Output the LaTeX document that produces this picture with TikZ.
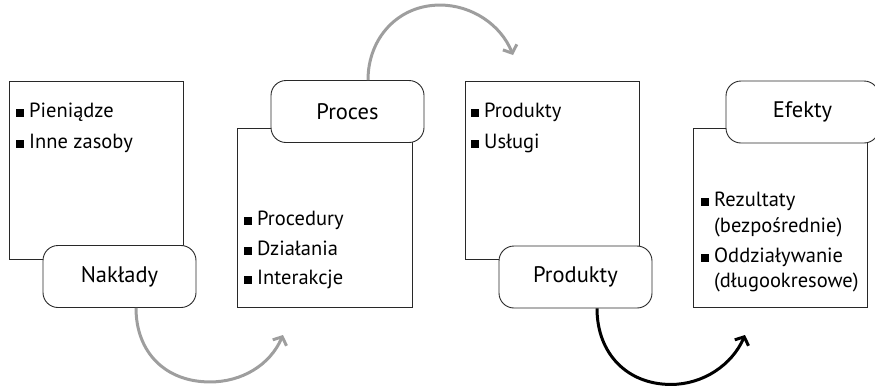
\documentclass[tikz,border=0pt]{standalone}
\usepackage{fontspec}
\setmainfont{PT Sans}
\usetikzlibrary{arrows.meta,calc}
\definecolor{flowgray}{RGB}{158,158,158}
\definecolor{edge}{RGB}{40,40,40}
\newcommand\sqb{\rule{8pt}{8pt}\hspace{5pt}}
\newcommand\sqgap{\hspace{13pt}}
\tikzset{
  panel/.style={draw=edge, line width=0.9pt, fill=white, inner sep=0pt},
  tag/.style={draw=edge, line width=0.9pt, fill=white, rounded corners=15pt,
    minimum width=153pt, minimum height=62pt, inner sep=0pt,
    font=\fontsize{22.5}{27}\selectfont},
  item/.style={anchor=base west, inner sep=0pt, font=\fontsize{20.5}{24}\selectfont},
  flow/.style={line width=3pt, -{Straight Barb[length=6.5pt,width=15pt,line width=3pt]}},
}
\begin{document}
\begin{tikzpicture}[x=1pt,y=-1pt]
\useasboundingbox (0,0) rectangle (875,386);
\clip (0,0) rectangle (875,386);

% content panels
\node[panel, minimum width=174pt, minimum height=178pt] (inbox) at (96,170) {};
\node[panel, minimum width=175pt, minimum height=179pt] (procbox) at (324.5,217.5) {};
\node[panel, minimum width=174pt, minimum height=178pt] (outbox) at (552,170) {};
\node[panel, minimum width=174pt, minimum height=179pt] (effbox) at (780,217.5) {};

% stage titles
\node[tag] (nak) at (119.5,276.5) {Nakłady};
\node[tag] (proc) at (347.5,111.5) {Proces};
\node[tag] (prod) at (575.5,277) {Produkty};
\node[tag] (ef) at (802.5,112) {Efekty};

% bullet lists
\node[item] (i1) at (16,117) {\sqb Pieniądze};
\node[item] (i2) at (16,148) {\sqb Inne zasoby};
\node[item] (p1) at (244,225) {\sqb Procedury};
\node[item] (p2) at (244,255) {\sqb Działania};
\node[item] (p3) at (244,284) {\sqb Interakcje};
\node[item] (o1) at (471,117) {\sqb Produkty};
\node[item] (o2) at (471,148) {\sqb Usługi};
\node[item] (e1) at (701,206) {\sqb Rezultaty};
\node[item] (e2) at (701,232) {\sqgap(bezpośrednie)};
\node[item] (e3) at (701,262) {\sqb Oddziaływanie};
\node[item] (e4) at (701,287) {\sqgap(długookresowe)};

% arrow ends
\coordinate (a1s) at ($(nak.south)+(16.5,0)$);
\coordinate (a1e) at (283,335);
\coordinate (a2s) at ($(proc.north)+(20.5,0)$);
\coordinate (a2e) at (513,55);
\coordinate (a3s) at ($(prod.south)+(21.5,0)$);
\coordinate (a3e) at (745,335);

% flow arrows
\draw[flow, flowgray] (a1s) .. controls ($(a1s)+(0,45)$) and ($(a1s)+(30,74)$) .. ($(a1s)+(74,74)$)
  .. controls ($(a1s)+(106,74)$) and ($(a1e)+(-13,30)$) .. (a1e);
\draw[flow, flowgray] (a2s) .. controls ($(a2s)+(0,-42)$) and ($(a2s)+(30,-75)$) .. ($(a2s)+(72,-75)$)
  .. controls ($(a2s)+(104,-75)$) and ($(a2e)+(-12,-30)$) .. (a2e);
\draw[flow, black] (a3s) .. controls ($(a3s)+(0,45)$) and ($(a3s)+(30,76)$) .. ($(a3s)+(74,76)$)
  .. controls ($(a3s)+(106,76)$) and ($(a3e)+(-13,30)$) .. (a3e);
\end{tikzpicture}
\end{document}
